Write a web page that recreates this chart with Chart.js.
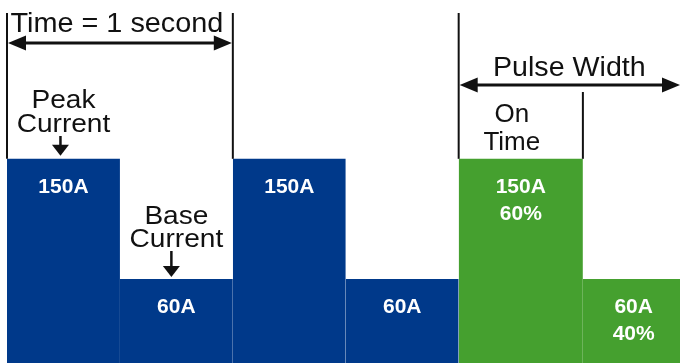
<!DOCTYPE html>
<html>
<head>
<meta charset="utf-8">
<script src="https://cdn.jsdelivr.net/npm/chart.js@4/dist/chart.umd.min.js"></script>
<style>
  body { margin: 0; background: #fff; }
  canvas { display: block; }
</style>
</head>
<body>
<canvas id="pulse-chart" width="680" height="363"></canvas>
<script>
// Dane - odcinki czasu (w sekundach) i prąd (A)
const segmentStarts = [0, 0.5, 1, 1.5, 2, 2.55];
const segmentEnds = [0.5, 1, 1.5, 2, 2.55, 3];
const currents = [150, 60, 150, 60, 150, 60];
const segmentLabels = [['150A'], ['60A'], ['150A'], ['60A'], ['150A', '60%'], ['60A', '40%']];
const segmentColors = ['#00398A', '#00398A', '#00398A', '#00398A', '#45A02F', '#45A02F'];

const FONT = '"Liberation Sans", Arial, Helvetica, sans-serif';
const INK = '#111';

// Każdy odcinek to osobny prostokąt (dwa punkty + wypełnienie do dołu)
const datasets = currents.map((c, i) => ({
    data: [{ x: segmentStarts[i], y: c }, { x: segmentEnds[i], y: c }],
    backgroundColor: segmentColors[i],
    borderColor: 'transparent',
    borderWidth: 0,
    pointRadius: 0,
    fill: 'start'
}));

function text(ctx, str, x, y, size, bold, sx) {
    ctx.save();
    ctx.translate(x, y);
    ctx.scale(sx || 1, 1);
    ctx.font = (bold ? 'bold ' : '') + size + 'px ' + FONT;
    ctx.textAlign = 'center';
    ctx.textBaseline = 'alphabetic';
    ctx.fillText(str, 0, 0);
    ctx.restore();
}

function vline(ctx, x, y1, y2) {
    ctx.beginPath();
    ctx.moveTo(x, y1);
    ctx.lineTo(x, y2);
    ctx.stroke();
}

function arrowHead(ctx, tipX, tipY, dir) {
    // dir: 'left', 'right', 'down'
    ctx.beginPath();
    if (dir === 'left') {
        ctx.moveTo(tipX, tipY);
        ctx.lineTo(tipX + 18, tipY - 7.5);
        ctx.lineTo(tipX + 18, tipY + 7.5);
    } else if (dir === 'right') {
        ctx.moveTo(tipX, tipY);
        ctx.lineTo(tipX - 18, tipY - 7.5);
        ctx.lineTo(tipX - 18, tipY + 7.5);
    } else {
        ctx.moveTo(tipX, tipY);
        ctx.lineTo(tipX - 8.5, tipY - 11);
        ctx.lineTo(tipX + 8.5, tipY - 11);
    }
    ctx.closePath();
    ctx.fill();
}

function hArrow(ctx, x1, x2, y) {
    ctx.beginPath();
    ctx.moveTo(x1 + 8, y);
    ctx.lineTo(x2 - 8, y);
    ctx.stroke();
    arrowHead(ctx, x1, y, 'left');
    arrowHead(ctx, x2, y, 'right');
}

function downArrow(ctx, x, y1, y2) {
    ctx.beginPath();
    ctx.moveTo(x, y1);
    ctx.lineTo(x, y2 - 6);
    ctx.stroke();
    arrowHead(ctx, x, y2, 'down');
}

const annotations = {
    id: 'annotations',
    afterDatasetsDraw(chart) {
        const ctx = chart.ctx;
        const xs = chart.scales.x;
        const ys = chart.scales.y;
        const peakY = ys.getPixelForValue(150);
        const baseY = ys.getPixelForValue(60);

        // Etykiety w słupkach
        ctx.fillStyle = '#fff';
        currents.forEach((c, i) => {
            const cx = (xs.getPixelForValue(segmentStarts[i]) + xs.getPixelForValue(segmentEnds[i])) / 2;
            const top = ys.getPixelForValue(c);
            segmentLabels[i].forEach((t, j) => {
                text(ctx, t, cx, top + 34 + j * 27, 21, true);
            });
        });

        ctx.strokeStyle = INK;
        ctx.fillStyle = INK;
        ctx.lineWidth = 2;

        // Linie pionowe
        const x0 = xs.getPixelForValue(0);
        const x1 = xs.getPixelForValue(1);
        const x2 = xs.getPixelForValue(2);
        const xOn = xs.getPixelForValue(2.55);
        vline(ctx, x0, 13, peakY);
        vline(ctx, x1, 13, peakY);
        vline(ctx, x2, 13, peakY);
        vline(ctx, xOn, 92, peakY);

        // Strzałki
        ctx.lineWidth = 3;
        hArrow(ctx, x0 + 1, x1 - 1, 43);
        hArrow(ctx, x2 + 1, chart.chartArea.right, 85);

        ctx.lineWidth = 2.5;
        const c0 = (x0 + xs.getPixelForValue(0.5)) / 2;
        downArrow(ctx, c0 - 3, 136, peakY - 3);
        const c1 = (xs.getPixelForValue(0.5) + x1) / 2;
        downArrow(ctx, c1 - 5, 251, baseY - 2);

        // Teksty
        text(ctx, 'Time = 1 second', (x0 + x1) / 2 - 3, 32, 28, false, 1.03);
        text(ctx, 'Pulse Width', (x2 + chart.chartArea.right) / 2, 76, 27, false, 1.06);

        text(ctx, 'Peak', c0, 108, 26, false, 1.08);
        text(ctx, 'Current', c0, 132, 26, false, 1.08);

        text(ctx, 'Base', c1, 224, 26, false, 1.08);
        text(ctx, 'Current', c1, 247, 26, false, 1.08);

        const cOn = (x2 + xOn) / 2 - 9;
        text(ctx, 'On', cOn, 122, 26, false, 1.0);
        text(ctx, 'Time', cOn, 150, 26, false, 1.0);
    }
};

new Chart(document.getElementById('pulse-chart'), {
    type: 'line',
    data: { datasets },
    options: {
        responsive: false,
        animation: false,
        layout: { padding: { left: 7, right: 0, top: 0, bottom: 0 } },
        scales: {
            x: { type: 'linear', min: 0, max: 2.98, display: false },
            y: { min: -3, max: 269, display: false }
        },
        plugins: {
            legend: { display: false },
            tooltip: { enabled: false }
        }
    },
    plugins: [annotations]
});
</script>
</body>
</html>
